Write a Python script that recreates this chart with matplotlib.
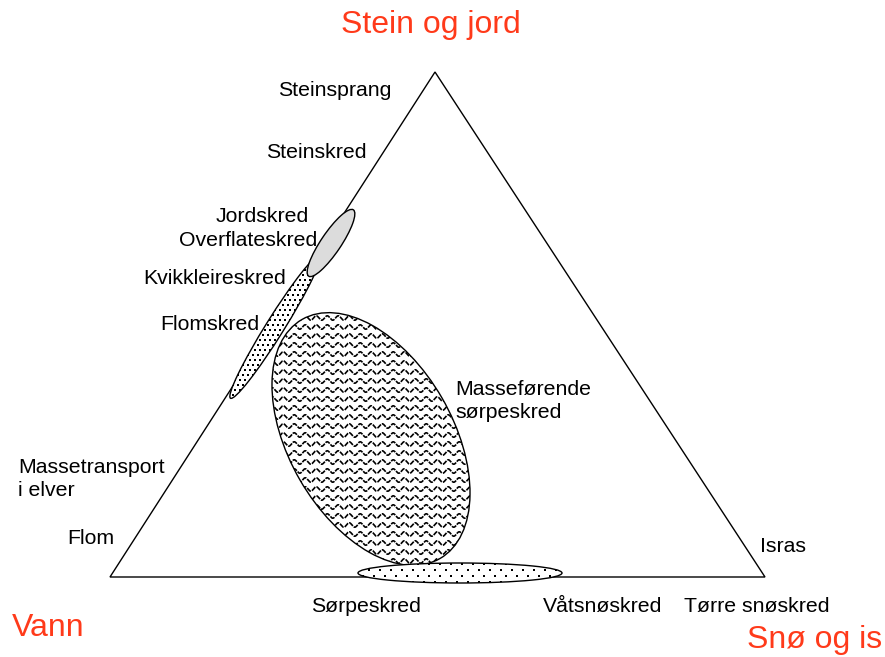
import numpy as np
import matplotlib.pyplot as plt
from matplotlib.patches import Ellipse, Polygon

plt.rcParams['font.family'] = ['Liberation Sans', 'DejaVu Sans']

# hjørner i trekanten (piksel-koordinater, y nedover)
hjorner = [(435, 72), (110, 577), (765, 577)]

# hjørnetitler
titler = ['Stein og jord', 'Vann', 'Snø og is']
titler_xy = [(431, 25), (12, 628), (882, 640)]
titler_ha = ['center', 'left', 'right']

# skredtyper langs kantene
etiketter = ['Steinsprang', 'Steinskred', 'Jordskred', 'Overflateskred',
             'Kvikkleireskred', 'Flomskred', 'Massetransport\ni elver', 'Flom',
             'Masseførende\nsørpeskred', 'Isras',
             'Sørpeskred', 'Våtsnøskred', 'Tørre snøskred']
etiketter_xy = [(335, 91), (316, 153), (262, 216), (317, 241),
                (143, 278), (160, 325), (18, 479), (67, 538),
                (455, 401), (760, 546),
                (366, 606), (603, 606), (757, 606)]
etiketter_ha = ['center', 'center', 'center', 'right',
                'left', 'left', 'left', 'left',
                'left', 'left',
                'center', 'center', 'center']

# ellipser: senter x, senter y, lengde, bredde, vinkel
grå = (331, 243, 80, 20, -56)
kvikk = (275, 327, 168, 18, -58)
masse = (371, 439, 276, 164, 60)
sorpe = (460, 573, 204, 20, 0)


def prikker(ax, patch, dx, dy, s):
    gx, gy = np.meshgrid(np.arange(0, 885, dx), np.arange(0, 657, dy))
    gx = gx + (np.arange(gx.shape[0])[:, None] % 2) * dx / 2
    sc = ax.scatter(gx.ravel(), gy.ravel(), s=s, c='black', marker='s', lw=0,
                    zorder=patch.get_zorder())
    sc.set_clip_path(patch)


fig = plt.figure(figsize=(8.85, 6.57), dpi=100)
ax = fig.add_axes([0, 0, 1, 1])
ax.set_xlim(0, 885)
ax.set_ylim(657, 0)
ax.axis('off')

ax.add_patch(Polygon(hjorner, closed=True, fill=False, ec='black', lw=1.0, zorder=1))

# kvikkleire / flomskred
e = Ellipse(kvikk[:2], kvikk[2], kvikk[3], angle=kvikk[4], fc='white', ec='none', zorder=2)
ax.add_patch(e)
prikker(ax, e, 5, 5, 2.5)
ax.add_patch(Ellipse(kvikk[:2], kvikk[2], kvikk[3], angle=kvikk[4], fill=False,
                     ec='black', lw=1.0, zorder=2))

# masseførende sørpeskred, bølgemønster
e = Ellipse(masse[:2], masse[2], masse[3], angle=masse[4], fc='white', ec='none', zorder=3)
ax.add_patch(e)
xs = np.linspace(260, 480, 800)
for y0 in np.arange(300, 580, 9.0):
    ln, = ax.plot(xs, y0 + 2.2 * np.sin(xs / 11.0 * 2 * np.pi), color='black', lw=1.2,
                  ls=(0, (3, 0.7)), zorder=3)
    ln.set_clip_path(e)
ax.add_patch(Ellipse(masse[:2], masse[2], masse[3], angle=masse[4], fill=False,
                     ec='black', lw=1.0, zorder=3))

# sørpeskred
e = Ellipse(sorpe[:2], sorpe[2], sorpe[3], angle=sorpe[4], fc='white', ec='none', zorder=4)
ax.add_patch(e)
prikker(ax, e, 11, 6, 2.5)
ax.add_patch(Ellipse(sorpe[:2], sorpe[2], sorpe[3], angle=sorpe[4], fill=False,
                     ec='black', lw=1.0, zorder=4))

# jordskred / overflateskred
ax.add_patch(Ellipse(grå[:2], grå[2], grå[3], angle=grå[4], fc='#dcdcdc', ec='black',
                     lw=1.0, zorder=5))

for t, xy, ha in zip(titler, titler_xy, titler_ha):
    ax.text(xy[0], xy[1], t, color='#ff3a1a', fontsize=23, ha=ha, va='center')

for t, xy, ha in zip(etiketter, etiketter_xy, etiketter_ha):
    ax.text(xy[0], xy[1], t, color='black', fontsize=15.3, ha=ha, va='center',
            linespacing=1.3)

fig.savefig('out.png', dpi=100)
